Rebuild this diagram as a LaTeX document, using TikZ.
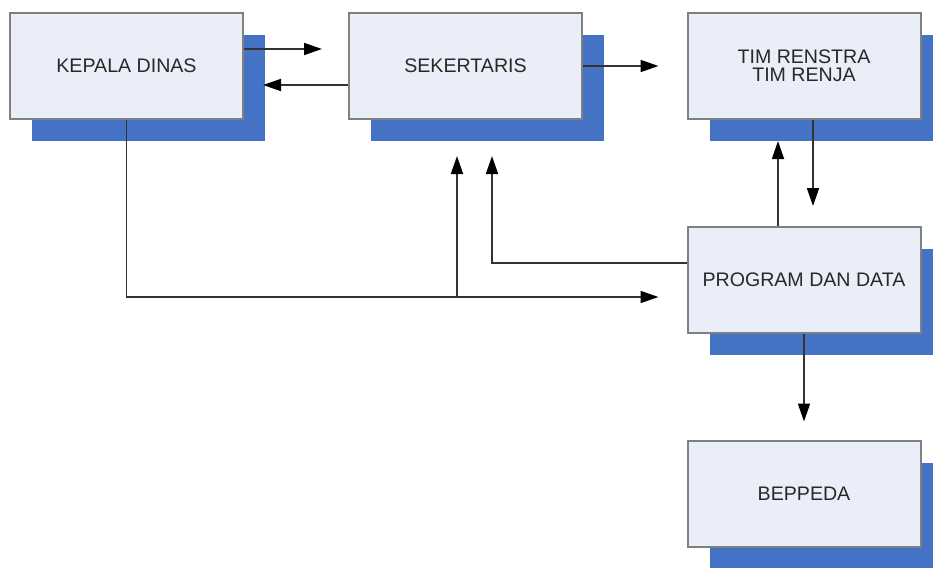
\documentclass[tikz,border=0pt]{standalone}
\usepackage{fontspec}
\setmainfont{Liberation Sans}
\usetikzlibrary{arrows.meta,positioning,shadows}
\definecolor{bxfill}{RGB}{233,238,248}
\definecolor{bxline}{RGB}{128,128,128}
\definecolor{bxshade}{RGB}{68,114,196}
\definecolor{txtgray}{RGB}{40,40,40}

\begin{document}
\begin{tikzpicture}[x=0.5pt, y=-0.5pt,
  box/.style={rectangle, draw=bxline, line width=1pt, fill=bxfill,
    minimum width=116.5pt, minimum height=53pt, inner sep=0pt,
    font=\fontsize{9.8}{8.8}\selectfont, align=center, text=txtgray,
    drop shadow={shadow xshift=11pt, shadow yshift=-11pt,
      fill=bxshade, opacity=1}},
  arr/.style={-{Triangle[length=9pt, width=6pt, color=black]},
    line width=0.9pt, black!80}]
\useasboundingbox (0,0) rectangle (933,568);
% Boxes
\node[box] (kd) at (126.5,66) {KEPALA DINAS};
\node[box] (sek) at (465.5,66) {SEKERTARIS};
\node[box] (tim) at (804,66) {TIM RENSTRA\\TIM RENJA};
\node[box] (pd) at (804,280) {PROGRAM DAN DATA};
\node[box] (bep) at (804,493.5) {BEPPEDA};
% Top row
\draw[arr, shorten >=13pt] ([yshift=8.5pt]kd.east) -- ([yshift=8.5pt]sek.west);
\draw[arr, shorten >=9.5pt] ([yshift=-9.5pt]sek.west) -- ([yshift=-9.5pt]kd.east);
\draw[arr, shorten >=14pt] (sek.east) -- (tim.west);
% Right column
\draw[arr, shorten >=10pt] ([xshift=4.5pt]tim.south) -- ([xshift=4.5pt]pd.north);
\draw[arr, shorten >=10.5pt] ([xshift=-13pt]pd.north) -- ([xshift=-13pt]tim.south);
\draw[arr, shorten >=9pt] (pd.south) -- (bep.north);
% Lower lines
\draw[arr, shorten >=14pt] (kd.south) |- ([yshift=-8.5pt]pd.west);
\coordinate (split) at (457,297);
\draw[arr, shorten >=18pt] (split) -- (split |- sek.south);
\draw[arr, shorten >=18pt] ([yshift=8.5pt]pd.west) -| ([xshift=13.25pt]sek.south);
\end{tikzpicture}
\end{document}
